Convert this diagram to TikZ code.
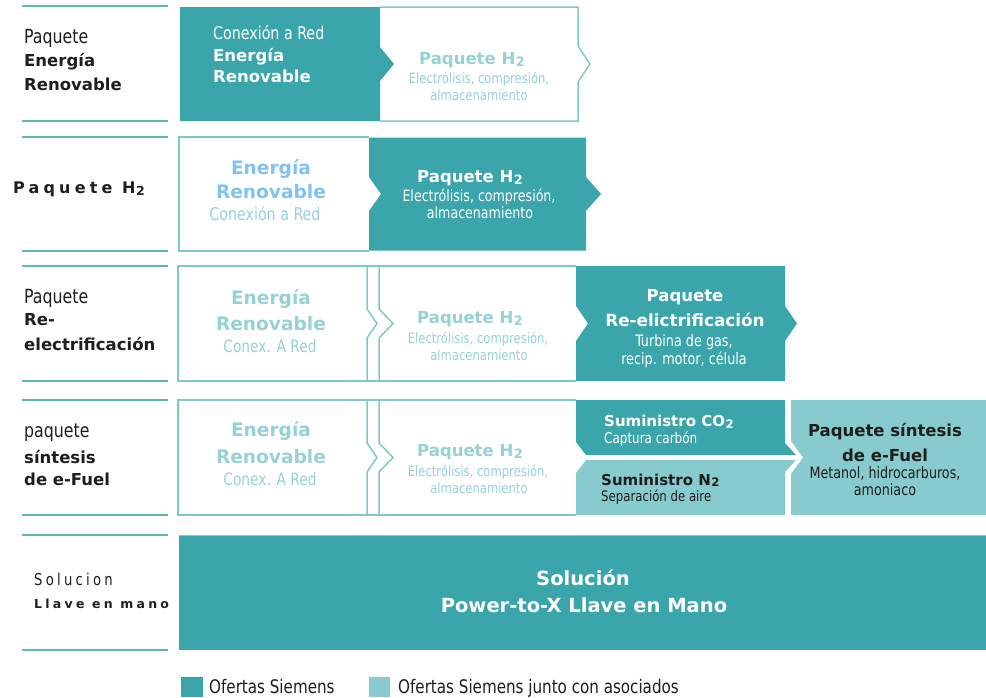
\documentclass[tikz,border=0pt]{standalone}
\usepackage{fontspec}
\usepackage{graphicx}
\setmainfont{DejaVu Sans}
\newfontfamily\rg{DejaVu Sans Condensed}[FakeStretch=0.9]
\newfontfamily\rgls{DejaVu Sans Condensed}[FakeStretch=0.9,LetterSpace=20]
\newfontfamily\bdlsA{DejaVu Sans}[LetterSpace=26]
\newfontfamily\bdlsB{DejaVu Sans}[LetterSpace=26]
\newcommand\FR[1]{\fontsize{#1}{#1}\rg}
\newcommand\FB[1]{\fontsize{#1}{#1}\normalfont\bfseries}
\newcommand\subtwo{\kern0.03em\raisebox{-0.12em}{\scalebox{0.78}{2}}}
\definecolor{tealD}{HTML}{3AA6AC}
\definecolor{tealL}{HTML}{88CBCE}
\definecolor{txtL}{HTML}{96D1D4}
\definecolor{blueL}{HTML}{7EC3F3}
\definecolor{bord}{HTML}{80C7CB}
\definecolor{rule}{HTML}{5DB6BB}
\definecolor{lab}{HTML}{1E1E1E}
\tikzset{
  t/.style={inner sep=0pt, anchor=base},
  tl/.style={inner sep=0pt, anchor=base west},
  wbox/.style={draw=bord, line width=1.5pt, line join=miter},
  rulel/.style={draw=rule, line width=2pt},
}
\begin{document}
\begin{tikzpicture}[x=1pt,y=-1pt]
\useasboundingbox (0,0) rectangle (986,697);
% left rules
\foreach \yy in {6,121,137,251,266,381,400,515,535,650}
  \draw[rulel] (22,\yy) -- (168,\yy);

% ---------- Row 1
\draw[wbox] (380,7) -- (578,7) -- (578,46) -- (590,64) -- (578,82) -- (578,121) -- (380,121);
\fill[tealD] (180,7) -- (380,7) -- (380,47) -- (394,64) -- (380,81) -- (380,121) -- (180,121) -- cycle;

% ---------- Row 2
\draw[wbox] (369,137) -- (179,137) -- (179,251) -- (369,251);
\fill[tealD] (369,137.5) -- (586,137.5) -- (586,177) -- (601,194) -- (586,211) -- (586,250.5) -- (369,250.5) -- (369,211) -- (381,194) -- (369,177) -- cycle;

% ---------- Row 3
\draw[wbox] (379,266) -- (178,266) -- (178,381) -- (379,381);
\draw[wbox] (367,266) -- (367,309) -- (377,323.5) -- (367,338) -- (367,381);
\draw[wbox] (379,266) -- (576,266);
\draw[wbox] (379,381) -- (576,381);
\draw[wbox] (379,266) -- (379,309) -- (393,323.5) -- (379,338) -- (379,381);
\fill[tealD] (576,266) -- (785,266) -- (785,306) -- (797,323.5) -- (785,341) -- (785,381) -- (576,381) -- (576,341) -- (588,323.5) -- (576,306) -- cycle;

% ---------- Row 4
\draw[wbox] (379,400) -- (178,400) -- (178,515) -- (379,515);
\draw[wbox] (367,400) -- (367,443) -- (377,457.5) -- (367,472) -- (367,515);
\draw[wbox] (379,400) -- (576,400);
\draw[wbox] (379,515) -- (576,515);
\draw[wbox] (379,400) -- (379,443) -- (393,457.5) -- (379,472) -- (379,515);
\fill[tealD] (576,400) -- (785,400) -- (785,443) -- (796,455) -- (586,455) -- (576,442) -- cycle;
\fill[tealL] (586,460) -- (796,460) -- (785,472) -- (785,515) -- (576,515) -- (576,473) -- cycle;
\fill[tealL] (791,400) -- (986,400) -- (986,515) -- (791,515) -- (791,474) -- (803,457.5) -- (791,441) -- cycle;

% ---------- Row 5
\draw[draw=bord, line width=1pt] (179,535) -- (986,535);
\fill[tealD] (179,536) rectangle (986,650);

% legend
\fill[tealD] (181,677) rectangle (203,697);
\fill[tealL] (369,677) rectangle (390,697);

% ---------- Texts row 1
\node[tl, font=\FR{19.5}, text=lab] (l1a) at (24,43.3) {Paquete};
\node[tl, font=\FB{16.5}, text=lab] (l1b) at (24,66.7) {Energía};
\node[tl, font=\FB{16.5}, text=lab] (l1c) at (24,90) {Renovable};
\node[tl, font=\FR{17.6}, text=white] (r1a) at (213,39) {Conexión a Red};
\node[tl, font=\FB{16.5}, text=white] (r1b) at (213,61) {Energía};
\node[tl, font=\FB{16.5}, text=white] (r1c) at (213,82.7) {Renovable};
\node[t, font=\FB{16.5}, text=txtL] (r1d) at (472,64.3) {Paquete H\subtwo};
\node[t, font=\FR{14.3}, text=txtL] (r1e) at (479,83.3) {Electrólisis, compresión,};
\node[t, font=\FR{14.3}, text=txtL] (r1f) at (479,100) {almacenamiento};

% ---------- Texts row 2
\node[tl, font={\fontsize{16}{16}\bdlsA\bfseries}, text=lab] (l2) at (13,193.3) {Paquete H\subtwo};
\node[t, font=\FB{18.6}, text=blueL] (r2a) at (271,174) {Energía};
\node[t, font=\FB{18.6}, text=blueL] (r2b) at (271,198.3) {Renovable};
\node[t, font=\FR{17.6}, text=txtL] (r2c) at (265,220) {Conexión a Red};
\node[t, font=\FB{16.5}, text=white] (r2d) at (470,182.3) {Paquete H\subtwo};
\node[t, font=\FR{15.6}, text=white] (r2e) at (479,201.7) {Electrólisis, compresión,};
\node[t, font=\FR{15.6}, text=white] (r2f) at (480,218.3) {almacenamiento};

% ---------- Texts row 3
\node[tl, font=\FR{19.5}, text=lab] (l3a) at (24,303.3) {Paquete};
\node[tl, font=\FB{16.5}, text=lab] (l3b) at (24,325.7) {Re-};
\node[tl, font=\FB{16.5}, text=lab] (l3c) at (24,350) {electrificación};
\node[t, font=\FB{18.6}, text=txtL] (r3a) at (271,304) {Energía};
\node[t, font=\FB{18.6}, text=txtL] (r3b) at (271,330.7) {Renovable};
\node[t, font=\FR{17}, text=txtL] (r3c) at (270,352.7) {Conex. A Red};
\node[t, font=\FB{16.5}, text=txtL] (r3d) at (470,323.3) {Paquete H\subtwo};
\node[t, font=\FR{14.3}, text=txtL] (r3e) at (478,343.3) {Electrólisis, compresión,};
\node[t, font=\FR{14.3}, text=txtL] (r3f) at (479,360) {almacenamiento};
\node[t, font=\FB{16.5}, text=white] (r3g) at (685,301.7) {Paquete};
\node[t, font=\FB{16.8}, text=white] (r3h) at (685,326.7) {Re-elictrificación};
\node[t, font=\FR{15.8}, text=white] (r3i) at (684,346) {Turbina de gas,};
\node[t, font=\FR{15.8}, text=white] (r3j) at (684,364) {recip. motor, célula};

% ---------- Texts row 4
\node[tl, font=\FR{19.5}, text=lab] (l4a) at (24,437.7) {paquete};
\node[tl, font=\FB{16.5}, text=lab] (l4b) at (24,463.3) {síntesis};
\node[tl, font=\FB{16.5}, text=lab] (l4c) at (24,485) {de e-Fuel};
\node[t, font=\FB{18.6}, text=txtL] (r4a) at (271,436.7) {Energía};
\node[t, font=\FB{18.6}, text=txtL] (r4b) at (271,463.3) {Renovable};
\node[t, font=\FR{17}, text=txtL] (r4c) at (270,485) {Conex. A Red};
\node[t, font=\FB{16.5}, text=txtL] (r4d) at (470,456.7) {Paquete H\subtwo};
\node[t, font=\FR{14.3}, text=txtL] (r4e) at (478,476.7) {Electrólisis, compresión,};
\node[t, font=\FR{14.3}, text=txtL] (r4f) at (479,493.3) {almacenamiento};
\node[tl, font=\FB{15}, text=white] (co2a) at (604,426.7) {Suministro CO\subtwo};
\node[tl, font=\FR{14.8}, text=white] (co2b) at (604,443.3) {Captura carbón};
\node[tl, font=\FB{15}, text=lab] (n2a) at (601,485) {Suministro N\subtwo};
\node[tl, font=\FR{14.5}, text=lab] (n2b) at (601,501.7) {Separación de aire};
\node[t, font=\FB{16.5}, text=lab] (efa) at (885,436.7) {Paquete síntesis};
\node[t, font=\FB{16.5}, text=lab] (efb) at (885,461.7) {de e-Fuel};
\node[t, font=\FR{15.7}, text=lab] (efc) at (885,478.3) {Metanol, hidrocarburos,};
\node[t, font=\FR{15.7}, text=lab] (efd) at (885,495) {amoniaco};

% ---------- Texts row 5
\node[tl, font={\fontsize{16.3}{16.3}\rgls}, text=lab] (l5a) at (34,585) {Solucion};
\node[tl, font={\fontsize{12.5}{12.5}\bdlsB\bfseries}, text=lab] (l5b) at (34,608.3) {Llave en mano};
\node[t, font=\FB{19.5}, text=white] (r5a) at (583,585) {Solución};
\node[t, font=\FB{19.5}, text=white] (r5b) at (584,612.7) {Power-to-X Llave en Mano};

% legend text
\node[tl, font=\FR{18.7}, text=lab] (lg1) at (209,693.3) {Ofertas Siemens};
\node[tl, font=\FR{18.7}, text=lab] (lg2) at (398,693.3) {Ofertas Siemens junto con asociados};
\end{tikzpicture}
\end{document}
